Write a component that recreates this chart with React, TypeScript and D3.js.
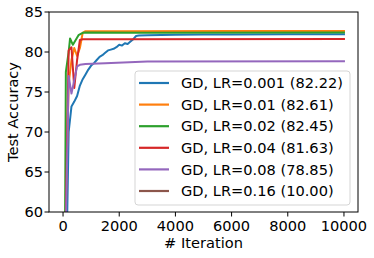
import React from 'react';
import * as d3 from 'd3';

// [iteration, test accuracy]
const lr0001: [number, number][] = [
  [0, 10], [100, 50], [200, 70], [300, 73.2], [400, 73.8], [500, 74.5], [600, 75.8],
  [700, 76.6], [800, 77.2], [900, 77.8], [1000, 78.3], [1100, 78.6], [1200, 79.0],
  [1300, 79.4], [1400, 79.6], [1500, 79.9], [1600, 80.2], [1700, 80.3], [1800, 80.4],
  [1900, 80.6], [2000, 80.9], [2100, 80.8], [2200, 81.1], [2300, 81.0], [2400, 81.3],
  [2500, 81.6], [2600, 82.0], [2700, 82.05], [3000, 82.1], [4000, 82.15], [5000, 82.18],
  [6000, 82.2], [8000, 82.22], [10000, 82.22],
];
const lr001: [number, number][] = [
  [0, 10], [100, 62], [200, 76], [300, 79], [400, 80.5], [500, 79.5], [600, 80.5],
  [700, 82.4], [800, 82.6], [2000, 82.6], [6000, 82.61], [10000, 82.61],
];
const lr002: [number, number][] = [
  [0, 10], [100, 77.5], [200, 80], [250, 81.7], [350, 80.9], [450, 81.5], [550, 82.1],
  [700, 82.4], [800, 82.45], [3000, 82.42], [10000, 82.45],
];
const lr004: [number, number][] = [
  [0, 10], [100, 60], [200, 80.2], [300, 80.6], [400, 75.5], [500, 79], [600, 81.5],
  [700, 81.6], [2000, 81.58], [10000, 81.63],
];
const lr008: [number, number][] = [
  [0, 10], [100, 58], [200, 77], [300, 74.8], [400, 76.5], [500, 78.2], [600, 78.4],
  [800, 78.5], [1500, 78.6], [3000, 78.8], [10000, 78.85],
];
const lr016: [number, number][] = [
  [0, 10], [10000, 10],
];

const seriesLabels = [
  'GD, LR=0.001 (82.22)',
  'GD, LR=0.01 (82.61)',
  'GD, LR=0.02 (82.45)',
  'GD, LR=0.04 (81.63)',
  'GD, LR=0.08 (78.85)',
  'GD, LR=0.16 (10.00)',
];
const seriesData = [lr0001, lr001, lr002, lr004, lr008, lr016];
const colors = ['#1f77b4', '#ff7f0e', '#2ca02c', '#d62728', '#9467bd', '#8c564b'];
const xTicks = [0, 2000, 4000, 6000, 8000, 10000];
const yTicks = [60, 65, 70, 75, 80, 85];

const App: React.FC = () => {
  const W = 374, H = 258;
  const left = 49, right = 358, top = 12, bottom = 212;

  const x = d3.scaleLinear().domain([-500, 10500]).range([left, right]);
  const y = d3.scaleLinear().domain([60, 85]).range([bottom, top]);
  const line = d3.line<[number, number]>().x(d => x(d[0])).y(d => y(d[1]));

  const font = '"DejaVu Sans", sans-serif';
  const fs = 14.6;
  const legX = 135, legY = 71, legW = 215, legH = 134;
  const rowY = (i: number) => 83 + i * 21.6;

  return (
    <svg width={W} height={H} style={{ position: 'absolute', left: 0, top: 0, background: '#fff' }}
      fontFamily={font}>
      <defs>
        <clipPath id="plot">
          <rect x={left} y={top} width={right - left} height={bottom - top} />
        </clipPath>
      </defs>
      <g clipPath="url(#plot)">
        {seriesData.map((s, i) => (
          <path key={i} d={line(s) || ''} fill="none" stroke={colors[i]} strokeWidth={2}
            strokeLinejoin="round" strokeLinecap="square" />
        ))}
      </g>
      <rect x={left} y={top} width={right - left} height={bottom - top} fill="none" stroke="#000" strokeWidth={1} />
      {xTicks.map(t => (
        <g key={t}>
          <line x1={x(t)} x2={x(t)} y1={bottom} y2={bottom + 4.5} stroke="#000" />
          <text x={x(t)} y={bottom + 18.5} fontSize={fs} textAnchor="middle">{t}</text>
        </g>
      ))}
      {yTicks.map(t => (
        <g key={t}>
          <line x1={left - 4.5} x2={left} y1={y(t)} y2={y(t)} stroke="#000" />
          <text x={left - 6} y={y(t) + 5.2} fontSize={fs} textAnchor="end">{t}</text>
        </g>
      ))}
      <text x={(left + right) / 2} y={248} fontSize={fs} textAnchor="middle"># Iteration</text>
      <text transform={`translate(18,${(top + bottom) / 2}) rotate(-90)`} fontSize={fs} textAnchor="middle">Test Accuracy</text>

      <rect x={legX} y={legY} width={legW} height={legH} rx={3} fill="#fff" fillOpacity={0.8}
        stroke="#d5d5d5" strokeWidth={1} />
      {seriesLabels.map((l, i) => (
        <g key={l}>
          <line x1={139} x2={169} y1={rowY(i)} y2={rowY(i)} stroke={colors[i]} strokeWidth={2.2} />
          <text x={181} y={rowY(i) + 5.2} fontSize={fs}>{l}</text>
        </g>
      ))}
    </svg>
  );
};

export default App;
